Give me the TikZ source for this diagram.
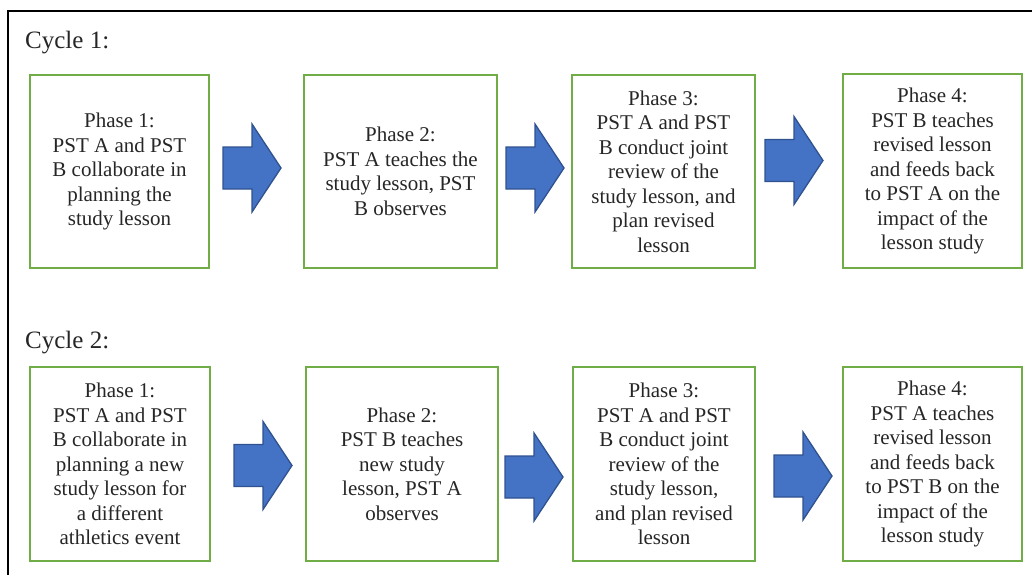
\documentclass[tikz,border=0pt]{standalone}
\usepackage{fontspec}
\setmainfont{Liberation Serif}
\definecolor{boxgreen}{HTML}{70AD47}
\definecolor{arrblue}{HTML}{4472C4}
\definecolor{arrdark}{HTML}{2F528F}
\definecolor{txt}{HTML}{262626}
\newcommand\myblockarrow[3]{%
  \draw[blockarr] (#1,#3-21) -- (#1+29,#3-21) -- (#1+29,#3-44) -- (#1+58,#3)
    -- (#1+29,#3+44) -- (#1+29,#3+21) -- (#1,#3+21) -- cycle;}
\begin{document}
\begin{tikzpicture}[x=1pt,y=-1pt,
  phase/.style={draw=boxgreen, line width=2.2pt, align=center,
    font=\fontsize{21}{24.5}\selectfont, text=txt, inner sep=0pt},
  cyclelabel/.style={anchor=base west, inner sep=0pt, text=txt,
    font=\fontsize{25}{30}\selectfont},
  frame/.style={draw=black, line width=2pt},
  blockarr/.style={fill=arrblue, draw=arrdark, line width=1.3pt, line join=miter}]
\useasboundingbox (0,0) rectangle (1032,574);
% frame
\coordinate (fbl) at (8,575);
\coordinate (ftl) at (8,11);
\coordinate (ftr) at (1033,11);
\draw[frame] (fbl) -- (ftl) -- (ftr);
% labels
\node[cyclelabel] (cyc1) at (25,48) {Cycle 1:};
\node[cyclelabel] (cyc2) at (25,348) {Cycle 2:};
% cycle 1 boxes
\node[phase, minimum width=179pt, minimum height=193pt] (a1) at (119.5,171.5)
  {Phase 1:\\PST A and PST\\B collaborate in\\planning the\\study lesson};
\node[phase, minimum width=193pt, minimum height=193pt] (a2) at (400.5,171.5)
  {Phase 2:\\PST A teaches the\\study lesson, PST\\B observes};
\node[phase, minimum width=183pt, minimum height=193pt] (a3) at (663.5,171.5)
  {Phase 3:\\PST A and PST\\B conduct joint\\review of the\\study lesson, and\\plan revised\\lesson};
\node[phase, minimum width=179pt, minimum height=194pt] (a4) at (932.5,171)
  {Phase 4:\\PST B teaches\\revised lesson\\and feeds back\\to PST A on the\\impact of the\\lesson study};
% cycle 2 boxes
\node[phase, minimum width=180pt, minimum height=194pt] (b1) at (120,464)
  {Phase 1:\\PST A and PST\\B collaborate in\\planning a new\\study lesson for\\a different\\athletics event};
\node[phase, minimum width=192pt, minimum height=194pt] (b2) at (402,464)
  {Phase 2:\\PST B teaches\\new study\\lesson, PST A\\observes};
\node[phase, minimum width=182pt, minimum height=194pt] (b3) at (664,464)
  {Phase 3:\\PST A and PST\\B conduct joint\\review of the\\study lesson,\\and plan revised\\lesson};
\node[phase, minimum width=179pt, minimum height=194pt] (b4) at (932.5,464)
  {Phase 4:\\PST A teaches\\revised lesson\\and feeds back\\to PST B on the\\impact of the\\lesson study};
% block arrows
\myblockarrow{223}{}{168}
\myblockarrow{506}{}{168}
\myblockarrow{765}{}{160.5}
\myblockarrow{234}{}{465.5}
\myblockarrow{505}{}{477}
\myblockarrow{774}{}{476}
\end{tikzpicture}
\end{document}
